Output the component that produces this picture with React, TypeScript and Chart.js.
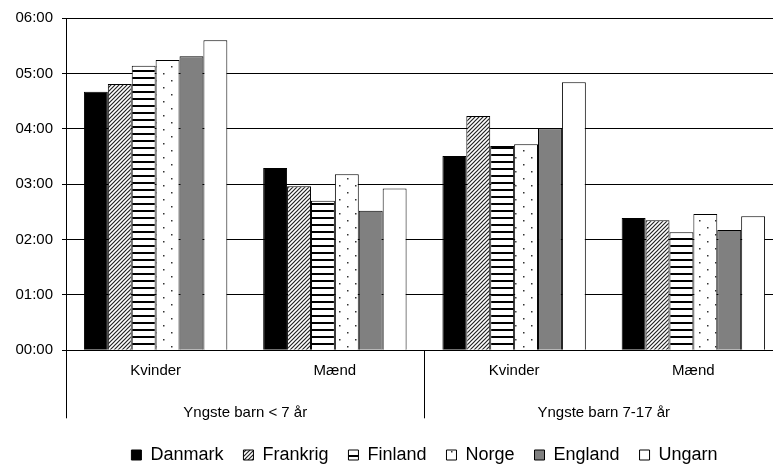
import React, { useEffect, useRef } from "react";
import { Chart, registerables } from "chart.js";

Chart.register(...registerables);

// ---- data (hours) ----
const categories = ["Kvinder", "Mænd", "Kvinder", "Mænd"];
const groupLabels = ["Yngste barn < 7 år", "Yngste barn 7-17 år"];
const seriesNames = ["Danmark", "Frankrig", "Finland", "Norge", "England", "Ungarn"];
const danmark = [4.67, 3.29, 3.51, 2.39];
const frankrig = [4.81, 2.96, 4.23, 2.35];
const finland = [5.14, 2.7, 3.69, 2.13];
const norge = [5.24, 3.18, 3.72, 2.46];
const england = [5.31, 2.52, 4.01, 2.17];
const ungarn = [5.6, 2.92, 4.84, 2.42];
const yTickLabels = ["00:00", "01:00", "02:00", "03:00", "04:00", "05:00", "06:00"];

const FONT = "'Liberation Sans', Arial, sans-serif";

function tile(w: number, h: number, draw: (c: CanvasRenderingContext2D) => void, ctx: CanvasRenderingContext2D) {
  const c = document.createElement("canvas");
  c.width = w;
  c.height = h;
  const t = c.getContext("2d")!;
  t.fillStyle = "#fff";
  t.fillRect(0, 0, w, h);
  draw(t);
  return ctx.createPattern(c, "repeat")!;
}

function makeFills(ctx: CanvasRenderingContext2D) {
  const hatch = tile(4, 4, (t) => {
    t.strokeStyle = "#222";
    t.lineWidth = 1.2;
    t.beginPath();
    t.moveTo(0, 4);
    t.lineTo(4, 0);
    t.moveTo(-1, 1);
    t.lineTo(1, -1);
    t.moveTo(3, 5);
    t.lineTo(5, 3);
    t.stroke();
  }, ctx);
  const hlines = tile(8, 7, (t) => {
    t.fillStyle = "#000";
    t.fillRect(0, 0, 8, 2);
  }, ctx);
  const dots = tile(16, 14, (t) => {
    t.fillStyle = "#333";
    t.fillRect(3, 3, 1.5, 1.5);
    t.fillRect(11, 10, 1.5, 1.5);
  }, ctx);
  return ["#000", hatch, hlines, dots, "#808080", "#fff"];
}

export default function App() {
  const ref = useRef<HTMLCanvasElement>(null);

  useEffect(() => {
    const canvas = ref.current!;
    const ctx = canvas.getContext("2d")!;
    const fills = makeFills(ctx);
    const values = [danmark, frankrig, finland, norge, england, ungarn];

    const chart = new Chart(canvas, {
      type: "bar",
      data: {
        labels: categories,
        datasets: seriesNames.map((name, i) => ({
          label: name,
          data: values[i],
          backgroundColor: fills[i] as any,
          borderColor: "#000",
          borderWidth: 1,
          barPercentage: 1,
          categoryPercentage: 0.8,
        })),
      },
      options: {
        responsive: false,
        animation: false,
        devicePixelRatio: 1,
        layout: { padding: { left: 0, top: 18, right: 0, bottom: 0 } },
        plugins: {
          tooltip: { enabled: false },
          legend: {
            position: "bottom",
            fullSize: false,
            labels: {
              boxWidth: 10,
              boxHeight: 10,
              padding: 20,
              color: "#000",
              font: { family: FONT, size: 18 },
            },
          },
        },
        scales: {
          x: {
            type: "category",
            offset: true,
            grid: {
              display: true,
              drawOnChartArea: false,
              drawTicks: true,
              tickLength: 68,
              offset: true,
              lineWidth: 1,
              color: (c: any) => (c.index === 0 || c.index === 2 ? "#000" : "rgba(0,0,0,0)"),
            },
            border: { display: true, color: "#000", width: 1 },
            ticks: {
              color: "#000",
              font: { family: FONT, size: 15 },
              padding: -56,
              autoSkip: false,
              maxRotation: 0,
            },
            afterFit: (s: any) => {
              s.height = 38;
            },
          },
          x2: {
            type: "category",
            position: "bottom",
            labels: groupLabels,
            offset: true,
            weight: 1,
            grid: { display: false },
            border: { display: false },
            ticks: {
              color: "#000",
              font: { family: FONT, size: 15 },
              padding: 8,
              autoSkip: false,
              maxRotation: 0,
            },
            afterFit: (s: any) => {
              s.height = 37.7;
            },
          },
          y: {
            min: 0,
            max: 6,
            ticks: {
              stepSize: 1,
              color: "#000",
              font: { family: FONT, size: 15 },
              padding: 9,
              callback: (v: any) => yTickLabels[Math.round(Number(v))],
            },
            grid: { color: "#000", lineWidth: 1, tickLength: 4 },
            border: { display: true, color: "#000", width: 1 },
            afterFit: (s: any) => {
              s.width = 66;
            },
          },
        },
      } as any,
    });
    return () => chart.destroy();
  }, []);

  return (
    <div
      style={{
        position: "absolute",
        left: 0,
        top: 0,
        width: 773,
        height: 468,
        overflow: "hidden",
        background: "#fff",
      }}
    >
      <canvas ref={ref} width={783} height={474} style={{ display: "block" }} />
    </div>
  );
}
